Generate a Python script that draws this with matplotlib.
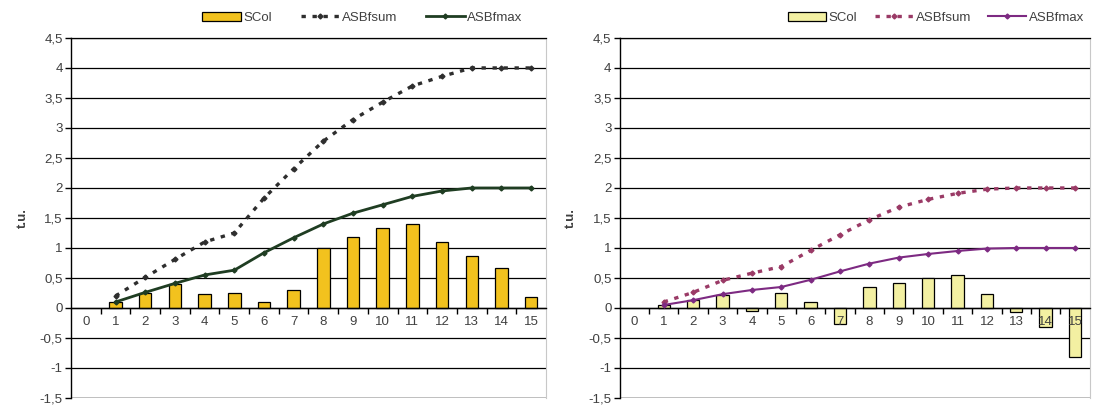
#!/usr/bin/env python3

import matplotlib
import numpy as np

matplotlib.use("Agg")
import matplotlib.pyplot as plt
from matplotlib.ticker import FuncFormatter, MultipleLocator

nan = np.nan

categories = list(range(16))

# left panel
scol_a = [nan, 0.1, 0.25, 0.4, 0.23, 0.25, 0.1, 0.3, 1.0, 1.18, 1.33, 1.4, 1.1, 0.87, 0.66, 0.18]
fsum_a = [nan, 0.2, 0.51, 0.81, 1.1, 1.25, 1.83, 2.32, 2.78, 3.14, 3.43, 3.7, 3.86, 4.0, 4.0, 4.0]
fmax_a = [nan, 0.1, 0.26, 0.41, 0.55, 0.63, 0.92, 1.17, 1.4, 1.58, 1.72, 1.86, 1.95, 2.0, 2.0, 2.0]

# right panel
scol_b = [nan, 0.05, 0.13, 0.22, -0.05, 0.25, 0.1, -0.26, 0.35, 0.42, 0.5, 0.55, 0.23, -0.07, -0.31, -0.82]
fsum_b = [nan, 0.1, 0.26, 0.46, 0.58, 0.69, 0.96, 1.22, 1.47, 1.68, 1.81, 1.91, 1.98, 2.0, 2.0, 2.0]
fmax_b = [nan, 0.05, 0.13, 0.23, 0.3, 0.35, 0.47, 0.61, 0.74, 0.84, 0.9, 0.95, 0.99, 1.0, 1.0, 1.0]

plt.rcParams["font.family"] = ["Liberation Sans", "DejaVu Sans"]
plt.rcParams["font.size"] = 9

TEXT = "#404040"


def draw_panel(ax, scol, fsum, fmax, bar_color, sum_color, max_color, max_lw, legend_x, col_gap):
    x = np.array(categories)
    bars = ax.bar(x, scol, width=0.42, color=bar_color, edgecolor="black", linewidth=0.9, zorder=2)
    (sum_line,) = ax.plot(x, fsum, color=sum_color, lw=2.4, dashes=(1.3, 2.0), marker="D", ms=2.5, zorder=3)
    (max_line,) = ax.plot(x, fmax, color=max_color, lw=max_lw, marker="D", ms=2.5, zorder=3)

    ax.set_xlim(-0.5, 15.5)
    ax.set_ylim(-1.5, 4.5)
    ax.yaxis.set_major_locator(MultipleLocator(0.5))
    ax.yaxis.set_major_formatter(FuncFormatter(lambda v, _: f"{v:g}".replace(".", ",")))
    ax.grid(axis="y", color="black", lw=0.9)
    ax.set_axisbelow(True)

    # category axis sits on the zero line, ticks between categories
    ax.spines["bottom"].set_position(("data", 0))
    ax.spines["bottom"].set_linewidth(1.0)
    ax.xaxis.set_zorder(2.5)
    ax.set_xticks(x)
    ax.set_xticks(x[:-1] + 0.5, minor=True)
    ax.tick_params(axis="x", which="major", length=0, pad=6, labelsize=9.5, labelcolor=TEXT)
    ax.tick_params(axis="x", which="minor", length=4, width=1.0, direction="out", color="black")
    ax.tick_params(axis="y", length=4, width=1.0, direction="out", pad=2, labelsize=9.5, labelcolor=TEXT)
    ax.spines["left"].set_linewidth(1.0)
    ax.spines["top"].set_linewidth(0.9)
    ax.spines["right"].set_color("#c8c8c8")
    ax.axhline(-1.5, color="#bdbdbd", lw=2.0, zorder=1)

    ax.set_ylabel("t.u.", fontweight="bold", fontsize=9.5, color=TEXT, labelpad=8)

    ax.legend([bars, sum_line, max_line], ["SCol", "ASBfsum", "ASBfmax"],
              loc="center right", bbox_to_anchor=(legend_x, 0.956), bbox_transform=ax.figure.transFigure,
              ncol=3, frameon=False, handlelength=2.9, handletextpad=0.2, columnspacing=col_gap,
              borderaxespad=0, borderpad=0, fontsize=9.5, labelcolor=TEXT)


def main() -> int:
    fig = plt.figure(figsize=(10.93, 4.08), dpi=100)
    ax_a = fig.add_axes([0.065, 0.0245, 0.4345, 0.8825])
    ax_b = fig.add_axes([0.567, 0.0245, 0.43, 0.8825])

    draw_panel(ax_a, scol_a, fsum_a, fmax_a, "#f2c21e", "#2e2e2e", "#1f3d22", 2.0, 0.478, 2.2)
    draw_panel(ax_b, scol_b, fsum_b, fmax_b, "#f3f0a2", "#9a3a66", "#7d2a82", 1.5, 0.992, 1.3)

    fig.savefig("out.png", dpi=100)
    plt.close(fig)
    return 0


if __name__ == "__main__":
    raise SystemExit(main())
